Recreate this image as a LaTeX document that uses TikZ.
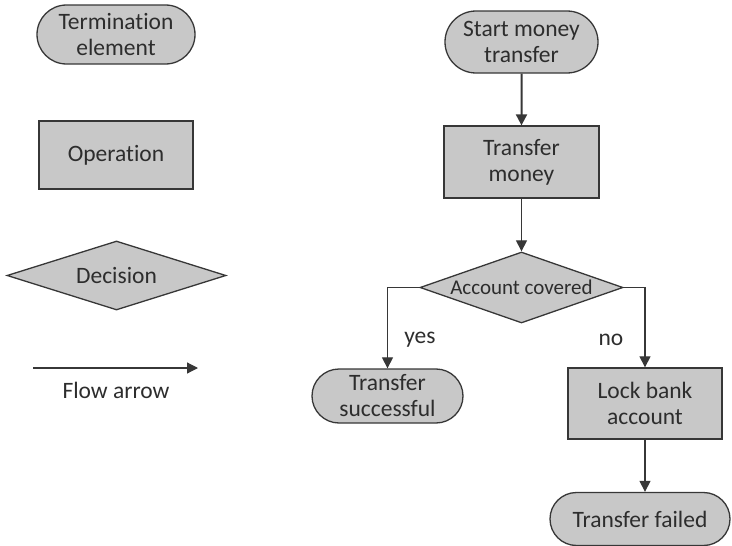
\documentclass[tikz,border=0pt]{standalone}
\usepackage{fontspec}
\setmainfont{Carlito}[Ligatures={NoCommon}]
\usetikzlibrary{shapes.geometric,shapes.misc,arrows.meta}
\definecolor{boxfill}{RGB}{200,200,200}
\definecolor{boxline}{RGB}{55,55,55}
\definecolor{boxtext}{RGB}{45,45,45}
\tikzset{
  term/.style={rounded rectangle, draw=boxline, fill=boxfill, line width=1.3pt, text=boxtext, align=center, inner sep=0pt},
  oper/.style={rectangle, draw=boxline, fill=boxfill, line width=1.3pt, text=boxtext, align=center, inner sep=0pt},
  decis/.style={diamond, aspect=3, draw=boxline, fill=boxfill, line width=1.3pt, text=boxtext, align=center, inner sep=0pt},
  flow/.style={-{Triangle[length=11pt,width=11pt]}, draw=boxline, line width=1.2pt},
  lbl/.style={text=boxtext}
}
\begin{document}
\begin{tikzpicture}[x=1pt, y=-1pt, font=\fontsize{23.5}{26}\selectfont]
 \useasboundingbox (0,0) rectangle (732,546);
 % legend 
                \node at (116,34.5) (legterm) [term, minimum width=158pt, minimum height=59pt] {Termination\\element};
                \node at (116,155) (legoper) [oper, minimum width=154pt, minimum height=68pt] {Operation};
                \node at (116.5,275.5) (legdec) [decis, minimum width=219pt, minimum height=69pt] {Decision};
                \coordinate (flowa) at (33,368);
                \coordinate (flowb) at (198,368);
                \draw [flow] (flowa) -- (flowb);
                \node at (116,390) (legflow) [lbl] {Flow arrow};
 % money transfer 
                \node at (521.5,42) (start) [term, minimum width=153pt, minimum height=62pt] {Start money\\transfer};
                \node at (521.5,162) (transfer) [oper, minimum width=155pt, minimum height=72pt] {Transfer\\money};
                \node at (521.5,287.5) (covered) [decis, minimum width=203pt, minimum height=71pt, font=\fontsize{21}{24}\selectfont] {Account covered};
                \node at (387.5,396) (success) [term, minimum width=151pt, minimum height=54pt] {Transfer\\successful};
                \node at (645,403.5) (lock) [oper, minimum width=154pt, minimum height=71pt] {Lock bank\\account};
                \node at (640,519) (failed) [term, minimum width=180pt, minimum height=53pt] {Transfer failed};
 %arrows 
                \draw [flow, line width=2pt] (start) -- (transfer);
                \draw [flow] (transfer) -- (covered);
                \draw [flow] (covered.west) -| (success.north);
                \draw [flow] (covered.east) -| (lock.north);
                \draw [flow] (lock) -- (lock.south |- failed.north);
                \node at (420,340) (yes) [lbl] {yes};
                \node at (611,340) (no) [lbl] {no};
\end{tikzpicture}
\end{document}
